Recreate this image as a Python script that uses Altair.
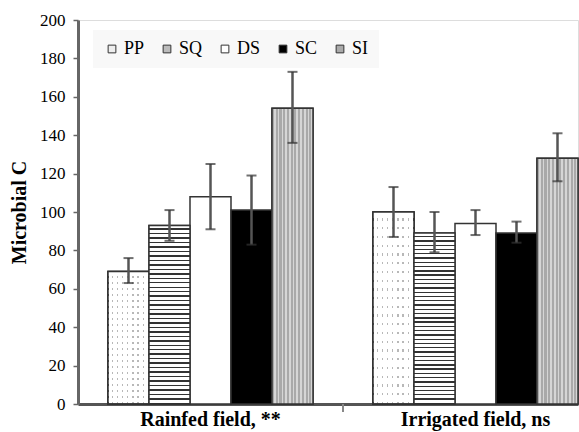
import altair as alt
import pandas as pd

fields = ["Rainfed field, **", "Irrigated field, ns"]
treatments = ["PP", "SQ", "DS", "SC", "SI"]
means_rainfed = [69, 93, 108, 101, 154]
lower_rainfed = [63, 85, 91, 83, 136]
upper_rainfed = [76, 101, 125, 119, 173]
means_irrigated = [100, 89, 94, 89, 128]
lower_irrigated = [87, 79, 88, 84, 116]
upper_irrigated = [113, 100, 101, 95, 141]

rows = []
for f, m, lo, up in [(fields[0], means_rainfed, lower_rainfed, upper_rainfed),
                     (fields[1], means_irrigated, lower_irrigated, upper_irrigated)]:
    for t, a, b, c in zip(treatments, m, lo, up):
        rows.append({"field": f, "treatment": t, "value": a, "lo": b, "hi": c})
df = pd.DataFrame(rows)

SERIF = "Liberation Serif"


def stripes(n, c1, c2, frac, horizontal=True):
    stops = []
    for i in range(n):
        stops.append(alt.GradientStop(offset=i / n, color=c1))
        stops.append(alt.GradientStop(offset=(i + frac) / n, color=c1))
        stops.append(alt.GradientStop(offset=(i + frac) / n, color=c2))
        stops.append(alt.GradientStop(offset=(i + 1) / n, color=c2))
    if horizontal:
        return alt.LinearGradient(gradient="linear", stops=stops, x1=0, x2=1, y1=0, y2=0)
    return alt.LinearGradient(gradient="linear", stops=stops, x1=0, x2=0, y1=0, y2=1)


yscale = alt.Scale(domain=[0, 200], nice=False)
yaxis = alt.Axis(values=list(range(0, 201, 20)), grid=False, title="Microbial C",
                 labelOverlap=False,
                 domainColor="#666", domainWidth=3, tickColor="#666", tickSize=5,
                 tickWidth=1.5, labelFont=SERIF, labelFontSize=17, labelColor="black",
                 labelPadding=8, titleFont=SERIF, titleFontSize=20,
                 titleFontWeight="bold", titleColor="black", titlePadding=10)
xenc = alt.X("field:N", sort=fields,
             scale=alt.Scale(domain=fields, paddingInner=0.2264, paddingOuter=0.0566, align=1),
             axis=alt.Axis(title=None, labelAngle=0, ticks=False, labelFont=SERIF,
                           labelFontSize=20, labelFontWeight="bold", labelColor="black",
                           labelPadding=5, domainColor="#555", domainWidth=3))
xoff = alt.XOffset("treatment:N", sort=treatments,
                   scale=alt.Scale(domain=treatments, paddingInner=0, paddingOuter=0))


def yenc(field):
    return alt.Y(field, scale=yscale, axis=yaxis)


base = alt.Chart(df)

bars = base.mark_bar(stroke="#333", strokeWidth=1.5).encode(
    x=xenc, xOffset=xoff, y=yenc("value:Q"),
    color=alt.Color("treatment:N", sort=treatments,
                    scale=alt.Scale(domain=treatments,
                                    range=["#eeeeee", "#bbbbbb", "#ffffff", "#000000", "#aaaaaa"]),
                    legend=alt.Legend(title=None, orient="none", legendX=15, legendY=10,
                                      direction="horizontal", symbolType="square",
                                      symbolSize=60, symbolStrokeColor="#333",
                                      symbolStrokeWidth=1, labelFont=SERIF, labelFontSize=18,
                                      labelColor="black", columnPadding=13, labelOffset=3,
                                      fillColor="#f8f8f8", padding=10)),
)


def pattern_layer(t, fill):
    return base.transform_filter(alt.datum.treatment == t).mark_bar(
        fill=fill, stroke="#333", strokeWidth=1.5).encode(
        x=xenc, xOffset=xoff, y=yenc("value:Q"))


pp_cols = pattern_layer("PP", stripes(8, "#ffffff", "#b8b8b8", 0.74))
pp_rows = pattern_layer("PP", stripes(22, "rgba(255,255,255,1)", "rgba(255,255,255,0)", 0.74,
                                      horizontal=False))
sq = pattern_layer("SQ", stripes(40, "#ffffff", "#333333", 0.68, horizontal=False))
si = pattern_layer("SI", stripes(11, "#a9a9a9", "#d6d6d6", 0.55))

err = base.mark_rule(color="#555", strokeWidth=2.5).encode(
    x=xenc, xOffset=xoff, y=yenc("lo:Q"), y2="hi:Q")
cap_hi = base.mark_tick(color="#333", size=10, thickness=2).encode(
    x=xenc, xOffset=xoff, y=yenc("hi:Q"))
cap_lo = base.mark_tick(color="#333", size=10, thickness=2).encode(
    x=xenc, xOffset=xoff, y=yenc("lo:Q"))

sep_tick = alt.Chart(pd.DataFrame({"k": [0]})).mark_rule(color="#888", strokeWidth=2).encode(
    x=alt.value(265), y=alt.value(384), y2=alt.value(392))

chart = alt.layer(bars, pp_cols, pp_rows, sq, si, err, cap_hi, cap_lo, sep_tick).properties(
    width=500, height=384,
    autosize=alt.AutoSizeParams(type="none"),
    padding={"left": 78, "top": 20, "right": 1, "bottom": 28},
).configure_view(stroke=None).configure(background="white", font=SERIF)

chart.save("out.html", embed_options={"renderer": "svg", "actions": False})
